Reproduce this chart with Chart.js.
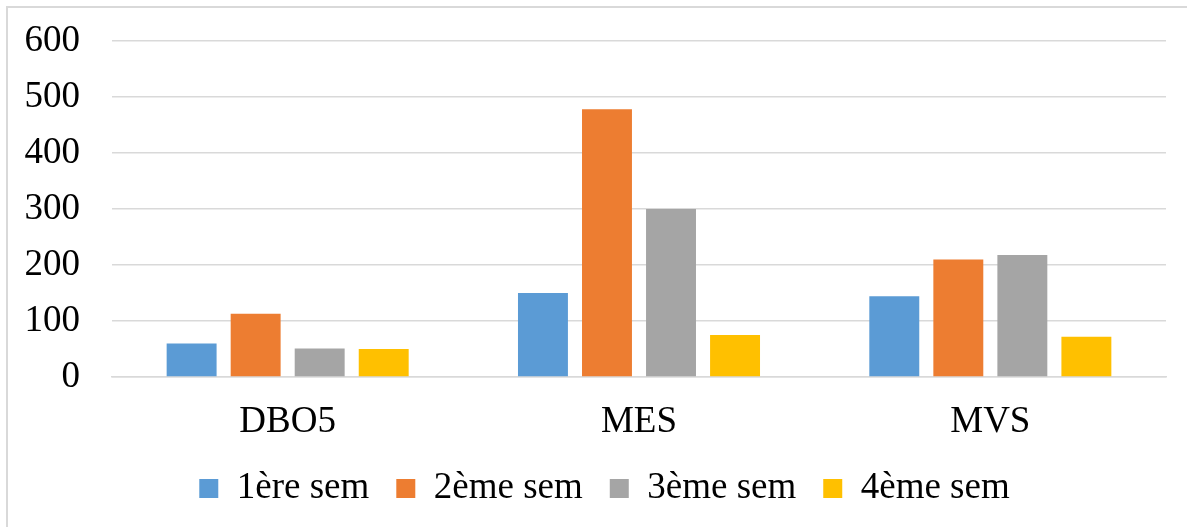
<!DOCTYPE html>
<html>
<head>
<meta charset="utf-8">
<script src="https://cdn.jsdelivr.net/npm/chart.js@4/dist/chart.umd.min.js"></script>
<style>
  html, body { margin: 0; padding: 0; background: #ffffff; }
  #wrap { width: 1187px; height: 527px; position: relative; }
</style>
</head>
<body>
<div id="wrap"><canvas id="chart" width="1187" height="527"></canvas></div>
<script>
// Parameters per category
const categories = ['DBO5', 'MES', 'MVS'];

// Weekly measurements
const sem1 = [60, 150, 144];
const sem2 = [113, 478, 210];
const sem3 = [51, 300, 218];
const sem4 = [50, 75, 72];

const seriesNames = ['1ère sem', '2ème sem', '3ème sem', '4ème sem'];
const seriesColors = ['#5B9BD5', '#ED7D31', '#A5A5A5', '#FFC000'];

// Y axis range
const yMin = 0;
const yMax = 600;
const yStep = 100;

const FONT = '"Liberation Serif", "Times New Roman", serif';
const GRID = '#D9D9D9';

// Thin frame along the top and left edges
const framePlugin = {
  id: 'frame',
  beforeDraw(chart) {
    const ctx = chart.ctx;
    ctx.save();
    ctx.fillStyle = '#ffffff';
    ctx.fillRect(0, 0, chart.width, chart.height);
    ctx.strokeStyle = GRID;
    ctx.lineWidth = 2;
    ctx.beginPath();
    ctx.moveTo(7, chart.height);
    ctx.lineTo(7, 7);
    ctx.lineTo(chart.width, 7);
    ctx.stroke();
    ctx.restore();
  }
};

const values = [sem1, sem2, sem3, sem4];

new Chart(document.getElementById('chart'), {
  type: 'bar',
  data: {
    labels: categories,
    datasets: values.map((v, i) => ({
      label: seriesNames[i],
      data: v,
      backgroundColor: seriesColors[i],
      borderWidth: 0,
      categoryPercentage: 0.729,
      barPercentage: 0.78
    }))
  },
  plugins: [framePlugin],
  options: {
    responsive: false,
    animation: false,
    layout: { padding: { left: 22, right: 0, top: 41, bottom: 10 } },
    plugins: {
      tooltip: { enabled: false },
      legend: {
        position: 'bottom',
        labels: {
          color: '#000000',
          font: { family: FONT, size: 37 },
          boxWidth: 19,
          boxHeight: 19,
          padding: 27
        }
      }
    },
    scales: {
      x: {
        afterFit(scale) { scale.height = 66; },
        grid: { display: false, drawTicks: false },
        border: { color: GRID, width: 1.5 },
        ticks: {
          color: '#000000',
          font: { family: FONT, size: 37 },
          padding: 23
        }
      },
      y: {
        min: yMin,
        max: yMax,
        afterFit(scale) { scale.width = 90; },
        grid: {
          color: GRID,
          lineWidth: 1.5,
          drawTicks: true,
          tickLength: 32,
          tickColor: 'rgba(0,0,0,0)'
        },
        border: { display: false },
        ticks: {
          stepSize: yStep,
          color: '#000000',
          font: { family: FONT, size: 37 },
          padding: 0
        }
      },
      // empty right-hand gutter
      gutter: {
        position: 'right',
        min: yMin,
        max: yMax,
        afterFit(scale) { scale.width = 21; },
        grid: { display: false, drawTicks: false },
        border: { display: false },
        ticks: { display: false }
      }
    }
  }
});
</script>
</body>
</html>
